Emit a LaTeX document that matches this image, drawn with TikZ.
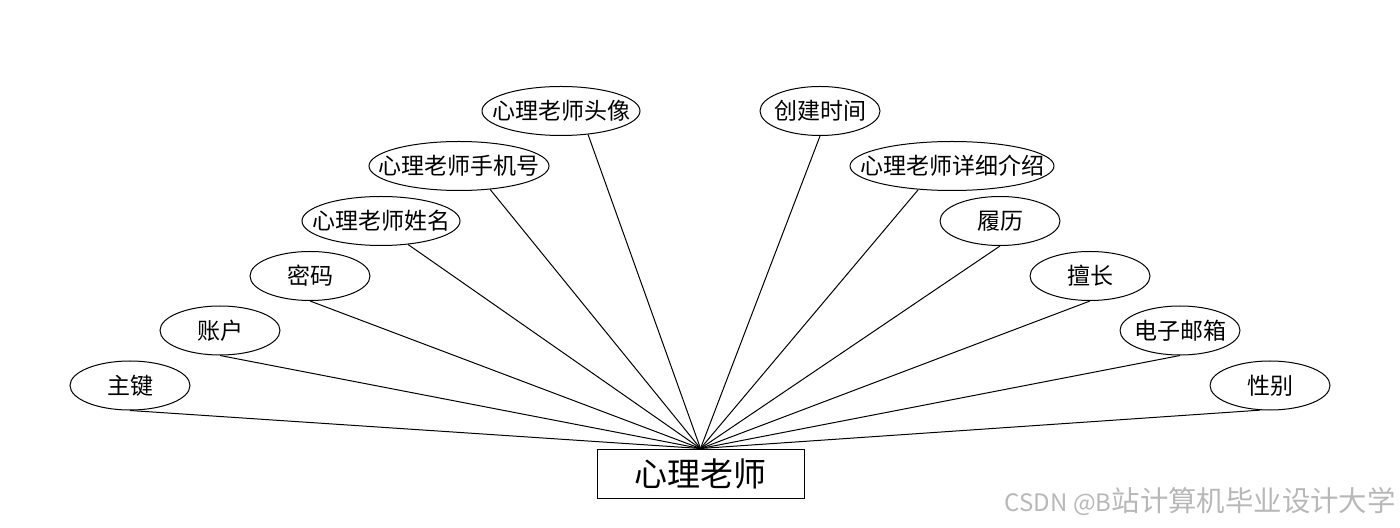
\documentclass[tikz,border=0pt]{standalone}
\usepackage{fontspec}
\setmainfont{Noto Sans CJK SC}
\usetikzlibrary{shapes.geometric}
\newcommand\zw[1]{\makebox[0pt]{#1}}
\begin{document}
\begin{tikzpicture}[x=0.5pt,y=-0.5pt,
  attr/.style={draw, ellipse, inner sep=0pt, minimum height=24.5pt, line width=0.5pt, font=\fontsize{11.5}{13}\selectfont},
  ent/.style={draw, rectangle, inner sep=0pt, minimum width=103.5pt, minimum height=24.5pt, line width=0.5pt, font=\fontsize{16.5}{19}\selectfont},
  link/.style={line width=0.5pt},
  mark text/.style={text=black!28, anchor=east, inner sep=0pt}]
\useasboundingbox (0,0) rectangle (1400,528);
\node[ent] (e) at (700.5,473.5) {心理老师};
\node[attr, minimum width=60pt] (a1) at (130,385.5) {\zw{主键}};
\node[attr, minimum width=60pt] (a2) at (220,330.5) {\zw{账户}};
\node[attr, minimum width=60pt] (a3) at (310,276) {\zw{密码}};
\node[attr, minimum width=79pt] (a4) at (381,221) {\zw{心理老师姓名}};
\node[attr, minimum width=90pt] (a5) at (459,166) {\zw{心理老师手机号}};
\node[attr, minimum width=79pt] (a6) at (561,111) {\zw{心理老师头像}};
\node[attr, minimum width=60pt] (b1) at (820,111) {\zw{创建时间}};
\node[attr, minimum width=102pt] (b2) at (952,166) {\zw{心理老师详细介绍}};
\node[attr, minimum width=60pt] (b3) at (1000,221) {\zw{履历}};
\node[attr, minimum width=60pt] (b4) at (1090,276) {\zw{擅长}};
\node[attr, minimum width=60pt] (b5) at (1180,330.5) {\zw{电子邮箱}};
\node[attr, minimum width=60pt] (b6) at (1270,385.5) {\zw{性别}};
\draw[link] (a1.south) -- (e.north);
\draw[link] (a2.south) -- (e.north);
\draw[link] (a3.south) -- (e.north);
\draw[link] (a4.-41) -- (e.north);
\draw[link] (a5.-37) -- (e.north);
\draw[link] (a6.-41) -- (e.north);
\draw[link] (b1.south) -- (e.north);
\draw[link] (b2.-145) -- (e.north);
\draw[link] (b3.south) -- (e.north);
\draw[link] (b4.south) -- (e.north);
\draw[link] (b5.south) -- (e.north);
\draw[link] (b6.-112) -- (e.north);
\node[mark text] (wm) at (1396,502) {\fontsize{12}{14}\selectfont CSDN @B{\fontsize{14.2}{16}\selectfont 站计算机毕业设计大学}};
\end{tikzpicture}
\end{document}
